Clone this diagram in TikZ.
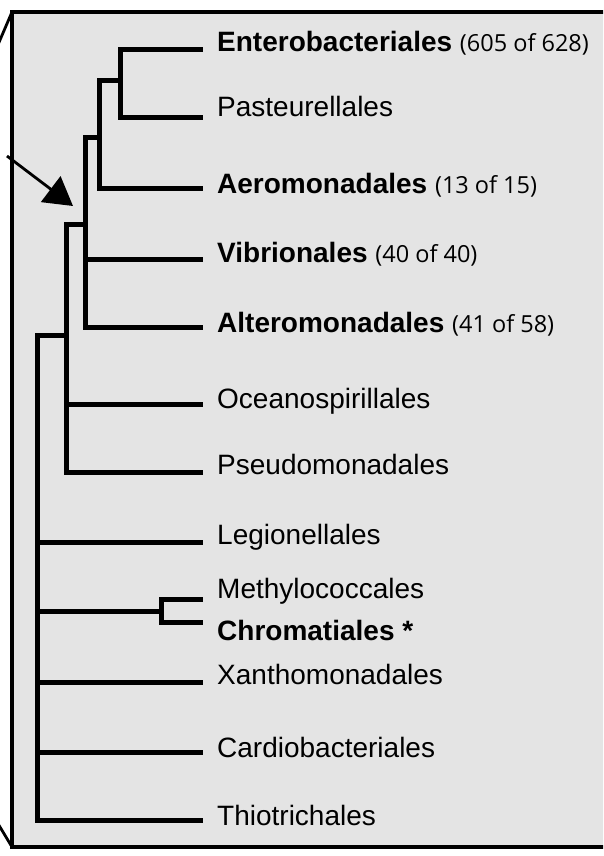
\documentclass[tikz,border=0pt]{standalone}
\usepackage{fontspec}
\setmainfont{Liberation Sans}
\newfontfamily\parenfont{Open Sans}
\usetikzlibrary{arrows.meta}
\definecolor{bgray}{RGB}{228,228,228}
\tikzset{
  tree/.style={line width=5pt, line join=miter, line cap=rect},
  lab/.style={anchor=base west, inner sep=0pt, font=\fontsize{28}{32}\selectfont},
  frame/.style={line width=3.5pt, fill=bgray},
  thin/.style={line width=2.8pt}
}
\newcommand{\cnt}[1]{{\parenfont\fontsize{23.5}{27}\selectfont #1}}
\begin{document}
\begin{tikzpicture}[x=1pt,y=-1pt]
\useasboundingbox (0,0) rectangle (603,856);
\fill[white] (0,0) rectangle (603,856);
\clip (0,0) rectangle (603,856);
% frame and zoom lines
\coordinate (fTL) at (12,12);
\coordinate (fBR) at (650,847);
\coordinate (fBL) at (12,847);
\coordinate (zTop) at (-6,54);
\coordinate (zBot) at (-6,817);
\draw[frame] (fTL) rectangle (fBR);
\draw[thin] (fTL) -- (zTop);
\draw[thin] (fBL) -- (zBot);
% leaves
\coordinate (lEntero) at (200,50);
\coordinate (lPast) at (200,118);
\coordinate (lAero) at (200,188);
\coordinate (lVib) at (200,259);
\coordinate (lAlter) at (200,327);
\coordinate (lOcean) at (200,404);
\coordinate (lPseudo) at (200,472);
\coordinate (lLegion) at (200,542);
\coordinate (lMethyl) at (200,599);
\coordinate (lChrom) at (200,622);
\coordinate (lXan) at (200,682);
\coordinate (lCardio) at (200,752);
\coordinate (lThio) at (200,820);
% internal nodes
\coordinate (nA) at (120,81);
\coordinate (nB) at (99,137);
\coordinate (nC) at (85,224);
\coordinate (nD) at (66,335);
\coordinate (nE) at (161,611);
\coordinate (root) at (37,500);
% branches
\draw[tree] (lEntero) -| (nA) |- (lPast);
\draw[tree] (nA) -| (nB) |- (lAero);
\draw[tree] (nB) -| (nC) |- (lAlter);
\draw[tree] (lVib) -- (lVib -| nC);
\draw[tree] (nC) -| (nD) |- (lPseudo);
\draw[tree] (lOcean) -- (lOcean -| nD);
\draw[tree] (nD) -| (root) |- (lThio);
\draw[tree] (lLegion) -- (lLegion -| root);
\draw[tree] (lMethyl) -| (nE) |- (lChrom);
\draw[tree] (nE) -- (nE -| root);
\draw[tree] (lXan) -- (lXan -| root);
\draw[tree] (lCardio) -- (lCardio -| root);
% labels
\node[lab] (tEntero) at (217,52) {\textbf{Enterobacteriales} \cnt{(605 of 628)}};
\node[lab] (tPast) at (217,117) {Pasteurellales};
\node[lab] (tAero) at (217,193) {\textbf{Aeromonadales} \cnt{(13 of 15)}};
\node[lab] (tVib) at (217,262) {\textbf{Vibrionales} \cnt{(40 of 40)}};
\node[lab] (tAlter) at (217,332) {\textbf{Alteromonadales} \cnt{(41 of 58)}};
\node[lab] (tOcean) at (217,408) {Oceanospirillales};
\node[lab] (tPseudo) at (217,474) {Pseudomonadales};
\node[lab] (tLegion) at (217,544) {Legionellales};
\node[lab] (tMethyl) at (217,598) {Methylococcales};
\node[lab] (tChrom) at (217,640) {\textbf{Chromatiales *}};
\node[lab] (tXan) at (217,684) {Xanthomonadales};
\node[lab] (tCardio) at (217,757) {Cardiobacteriales};
\node[lab] (tThio) at (217,825) {Thiotrichales};
% arrow
\coordinate (aStart) at (7,156);
\coordinate (aTip) at (73,206);
\draw[thin, -{Triangle[length=28pt,width=32pt]}] (aStart) -- (aTip);
\end{tikzpicture}
\end{document}
